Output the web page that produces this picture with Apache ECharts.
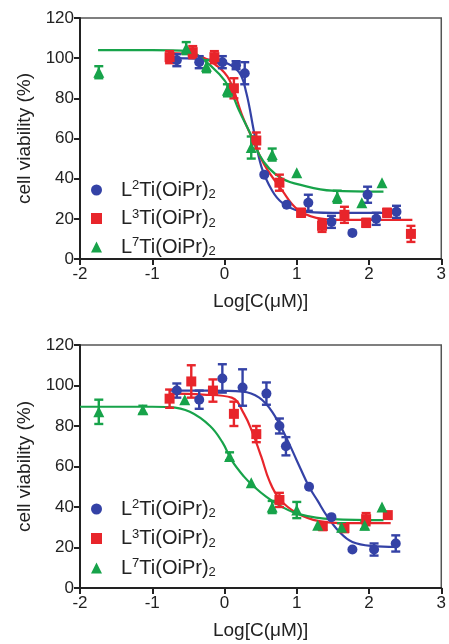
<!DOCTYPE html>
<html><head><meta charset="utf-8">
<script src="https://cdn.jsdelivr.net/npm/echarts@6/dist/echarts.min.js"></script>
<style>html,body{margin:0;padding:0;background:#fff}#c{width:449px;height:644px}</style>
</head><body><div id="c"></div>
<script>
// ---------- Series names ----------
const names = ['L2Ti(OiPr)2', 'L3Ti(OiPr)2', 'L7Ti(OiPr)2'];
const xTicks = [-2, -1, 0, 1, 2, 3];
const yTicks = [0, 20, 40, 60, 80, 100, 120];

// ---------- Panel A (top) measured points ----------
const aBlueX = [-0.66, -0.35, -0.03, 0.16, 0.28, 0.55, 0.86, 1.16, 1.48, 1.77, 1.98, 2.10, 2.38];
const aBlueY = [99, 98, 98, 96.5, 92.5, 42, 27, 28, 18.5, 13, 32, 20, 23.5];
const aBlueE = [3, 3, 3, 2, 5.5, 0, 0, 4, 3, 0, 4, 3, 3];

const aRedX = [-0.76, -0.44, -0.14, 0.13, 0.44, 0.76, 1.06, 1.35, 1.66, 1.96, 2.25, 2.58];
const aRedY = [100.5, 103, 100.5, 85, 59, 38, 23, 16.5, 22, 18, 23, 12.5];
const aRedE = [3, 3, 3, 5, 4, 4, 2, 3, 4, 2, 2, 4];

const aGreenX = [-1.74, -0.53, -0.25, 0.04, 0.37, 0.66, 1.00, 1.56, 1.90, 2.18];
const aGreenY = [93, 105, 96, 84, 55.5, 52, 43, 31, 28, 38];
const aGreenE = [3, 3, 3, 3, 5.5, 3, 0, 3, 0, 0];

// ---------- Panel A fitted curves ----------
const aBlueFitX = [-0.76, -0.3, 0.0, 0.2, 0.3, 0.41, 0.51, 0.66, 0.8, 1.04, 1.5, 2.38];
const aBlueFitY = [100, 99.5, 98, 93, 83, 63, 46, 34, 28, 24, 23, 23];
const aRedFitX = [-0.78, -0.4, -0.1, 0.07, 0.25, 0.41, 0.55, 0.8, 1.0, 1.27, 1.6, 2.0, 2.6];
const aRedFitY = [102.5, 101.5, 96, 89, 71, 58, 47, 34, 25, 20.5, 19.5, 19.5, 19.5];
const aGreenFitX = [-1.75, -1.0, -0.5, -0.35, -0.07, 0.07, 0.2, 0.35, 0.48, 0.62, 0.8, 1.04, 1.49, 2.2];
const aGreenFitY = [104, 104, 103.5, 101, 92, 85, 74, 63, 52, 45, 40, 37, 34, 33.5];

// ---------- Panel B (bottom) measured points ----------
const bBlueX = [-0.66, -0.35, -0.03, 0.25, 0.58, 0.76, 0.85, 1.17, 1.48, 1.77, 2.07, 2.37];
const bBlueY = [97.5, 93, 103.5, 99, 96, 80, 70, 50, 35, 19, 19, 22];
const bBlueE = [3.5, 4.5, 7, 9, 5.5, 3.7, 4.5, 0, 0, 0, 3, 4];

const bRedX = [-0.76, -0.46, -0.16, 0.13, 0.44, 0.76, 1.36, 1.66, 1.96, 2.26];
const bRedY = [93.5, 102, 97.5, 86, 76, 43.5, 30.6, 29.6, 34, 36];
const bRedE = [4.5, 8, 5.5, 6, 4, 3.5, 2, 2, 3, 0];

const bGreenX = [-1.74, -1.13, -0.55, 0.07, 0.37, 0.66, 1.00, 1.29, 1.62, 1.94, 2.18];
const bGreenY = [87, 88, 93, 65, 52, 40, 38.5, 31, 30, 31, 40];
const bGreenE = [6, 2, 0, 2, 0, 3, 4, 0, 2, 2, 0];

// ---------- Panel B fitted curves ----------
const bBlueFitX = [-0.76, -0.2, 0.25, 0.48, 0.66, 0.85, 1.0, 1.17, 1.29, 1.41, 1.59, 1.77, 2.05, 2.37];
const bBlueFitY = [97.5, 97.5, 97, 94, 87, 74.6, 63, 50, 43, 36, 27.7, 22.7, 20.7, 20.3];
const bRedFitX = [-0.76, -0.3, 0.1, 0.27, 0.39, 0.51, 0.62, 0.76, 1.0, 1.31, 1.7, 2.3];
const bRedFitY = [96, 95.5, 94, 86, 76.5, 64.7, 53, 44, 37, 33, 32, 32];
const bGreenFitX = [-2.0, -1.5, -1.0, -0.76, -0.48, -0.2, -0.03, 0.1, 0.27, 0.41, 0.58, 0.8, 1.03, 1.49, 2.2];
const bGreenFitY = [89.5, 89.5, 89.5, 89.3, 87, 80, 72, 63, 55, 50, 45, 40, 36.5, 34, 33.5];

// ---------- styling ----------
const colors = ['#3442a6', '#e8252b', '#17a34a'];
const symbols = ['circle', 'rect', 'triangle'];
const symSizes = [10, 10, 11];
const FONT = '"Liberation Sans", Arial, sans-serif';

const zip2 = (xs, ys) => xs.map((x, i) => [x, ys[i]]);
const zip3 = (xs, ys, es) => xs.map((x, i) => [x, ys[i], es[i]]);

function errRender(params, api) {
  const x = api.value(0), y = api.value(1), e = api.value(2);
  if (!e) return null;
  const t = api.coord([x, y + e]), b = api.coord([x, y - e]);
  const w = 4.5;
  const style = { stroke: api.visual('color'), lineWidth: 2.4 };
  return { type: 'group', children: [
    { type: 'line', shape: { x1: t[0], y1: t[1], x2: b[0], y2: b[1] }, style },
    { type: 'line', shape: { x1: t[0] - w, y1: t[1], x2: t[0] + w, y2: t[1] }, style },
    { type: 'line', shape: { x1: b[0] - w, y1: b[1], x2: b[0] + w, y2: b[1] }, style }
  ]};
}

const panels = [
  { pts: [[aBlueX, aBlueY, aBlueE], [aRedX, aRedY, aRedE], [aGreenX, aGreenY, aGreenE]],
    fits: [[aBlueFitX, aBlueFitY], [aRedFitX, aRedFitY], [aGreenFitX, aGreenFitY]] },
  { pts: [[bBlueX, bBlueY, bBlueE], [bRedX, bRedY, bRedE], [bGreenX, bGreenY, bGreenE]],
    fits: [[bBlueFitX, bBlueFitY], [bRedFitX, bRedFitY], [bGreenFitX, bGreenFitY]] }
];

const series = [];
panels.forEach((p, gi) => {
  p.fits.forEach((f, k) => {
    series.push({ type: 'line', name: 'fit' + gi + k, xAxisIndex: gi, yAxisIndex: gi,
      data: zip2(f[0], f[1]), smooth: 0.4, showSymbol: false, silent: true,
      lineStyle: { color: colors[k], width: 2.2 }, z: 2 });
  });
  p.pts.forEach((d, k) => {
    series.push({ type: 'custom', name: 'err' + gi + k, xAxisIndex: gi, yAxisIndex: gi,
      data: zip3(d[0], d[1], d[2]), renderItem: errRender,
      itemStyle: { color: colors[k] }, z: 3, silent: true });
    series.push({ type: 'scatter', name: names[k], xAxisIndex: gi, yAxisIndex: gi,
      data: zip2(d[0], d[1]), symbol: symbols[k], symbolSize: symSizes[k],
      itemStyle: { color: colors[k], opacity: 1 }, z: 4 });
  });
});

const grids = [
  { left: 80, top: 18, width: 362, height: 241 },
  { left: 80, top: 345, width: 362, height: 243 }
];

function xAxis(gi) {
  return { type: 'value', gridIndex: gi, min: xTicks[0], max: xTicks[xTicks.length - 1], interval: 1,
    name: 'Log[C(μM)]', nameLocation: 'middle', nameGap: 33,
    nameTextStyle: { fontFamily: FONT, fontSize: 19, color: '#222' },
    axisLine: { show: true, onZero: false, lineStyle: { color: '#222', width: 2 } },
    axisTick: { show: true, inside: false, length: 6, lineStyle: { color: '#222', width: 2 } },
    axisLabel: { fontFamily: FONT, fontSize: 17, color: '#222', margin: 7 },
    splitLine: { show: false } };
}
function yAxis(gi) {
  return { type: 'value', gridIndex: gi, min: yTicks[0], max: yTicks[yTicks.length - 1], interval: 20,
    name: 'cell viability (%)', nameLocation: 'middle', nameGap: 46,
    nameTextStyle: { fontFamily: FONT, fontSize: 19, color: '#222' },
    axisLine: { show: true, onZero: false, lineStyle: { color: '#222', width: 2 } },
    axisTick: { show: true, inside: false, length: 6, lineStyle: { color: '#222', width: 2 } },
    axisLabel: { fontFamily: FONT, fontSize: 17, color: '#222', margin: 6 },
    splitLine: { show: false } };
}

const rich = {
  sp: { width: 14 },
  b: { fontFamily: FONT, fontSize: 20, color: '#222', lineHeight: 22 },
  sup: { fontFamily: FONT, fontSize: 13, color: '#222', lineHeight: 22, verticalAlign: 'top', padding: [0, 0, 9, 0] },
  sub: { fontFamily: FONT, fontSize: 13, color: '#222', lineHeight: 22, verticalAlign: 'bottom', padding: [9, 0, 0, 0] }
};
function legendFmt(n) {
  return '{sp|}{b|L}{sup|' + n.charAt(1) + '}{b|Ti(OiPr)}{sub|2}';
}
function legend(top, gap) {
  return { orient: 'vertical', left: 86, top: top, itemGap: gap, itemWidth: 11, itemHeight: 11,
    selectedMode: false, formatter: legendFmt, textStyle: { rich: rich },
    data: names.map((n, k) => ({ name: n, icon: symbols[k], itemStyle: { color: colors[k] } })) };
}

const chart = echarts.init(document.getElementById('c'), null, { renderer: 'canvas' });
chart.setOption({
  backgroundColor: '#fff',
  animation: false,
  grid: grids.map(g => Object.assign({ show: true, borderColor: '#555', borderWidth: 1.5, backgroundColor: 'transparent' }, g)),
  xAxis: [xAxis(0), xAxis(1)],
  yAxis: [yAxis(0), yAxis(1)],
  legend: [legend(174, 6.5), legend(493, 7.5)],
  series: series
});
</script>
</body></html>
